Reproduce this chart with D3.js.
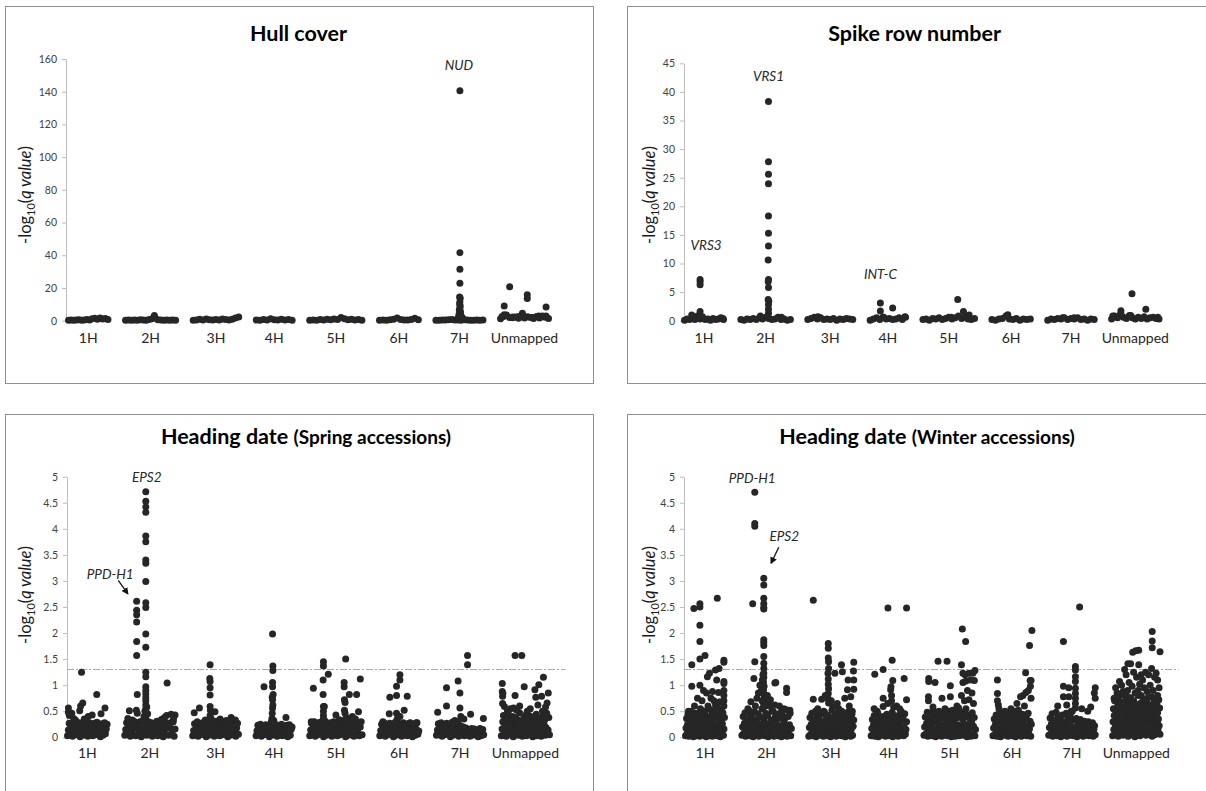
<!DOCTYPE html>
<html>
<head>
<meta charset="utf-8">
<script src="https://cdn.jsdelivr.net/npm/d3@7"></script>
<style>
  body { margin: 0; background: #fff; }
  svg { display: block; font-family: Lato, "Open Sans", sans-serif; }
</style>
</head>
<body>
<svg id="chart" width="1206" height="791"></svg>
<script>
'use strict';

// Chromosomes and their lengths (cM-like units) along the x axis
var chromosomes = ["1H", "2H", "3H", "4H", "5H", "6H", "7H", "Unmapped"];
var chromLength = [130, 165, 150, 118, 172, 128, 155, 158];
var chromGap = 58;

// Tick values of the y axes
var hullTicks = [0, 20, 40, 60, 80, 100, 120, 140, 160];
var spikeTicks = [0, 5, 10, 15, 20, 25, 30, 35, 40, 45];
var headingTicks = [0, 0.5, 1, 1.5, 2, 2.5, 3, 3.5, 4, 4.5, 5];
var qThreshold = 1.301; // -log10(0.05)

// ---- Hull cover ----
// dense markers near zero, one list per chromosome, in map order
var hullBase = [
  [.3,.5,.2,.4,.6,.3,.5,.8,.4,1.2,1.5,.9,1.6,1.1,1.4,.8],
  [.2,.4,.3,.5,.2,.6,.4,.3,.8,1.2,1.8,.6,.4,.3,.5,.2,.4,.3],
  [.3,.5,.9,.4,1.1,.6,.4,.8,.5,1.0,.7,.5,.9,1.6,2.2],
  [.4,.3,.8,.5,1.2,.6,.4,.9,.5,.7,.3],
  [.2,.5,.3,.7,.4,.9,.6,1.1,.8,2.0,1.2,.6,.9,.4,.8,.3],
  [.3,.4,.2,.6,.9,1.6,.8,.5,.4,.7,1.5,.6],
  [.3,.2,.5,.4,.6,.8,.5,.4,.3,.6,.4,.3,.2,.5,.3,.4],
  [1.2,2.5,3.5,2.0,1.8,2.2,1.5,2.8,1.6,2.4,1.9,1.3,2.6,1.7,2.9,2.1,1.4]
];
// [chromosome index, position, -log10 q]
var hullPeaks = [
  [1,95,3.2],
  [6,79,140.6],[6,79,41.6],[6,79,31.4],[6,79,22.9],[6,78,14.5],[6,80,13.8],[6,79,11.4],[6,78,10.2],
  [6,80,9.0],[6,79,7.8],[6,77,6.5],[6,81,5.5],[6,79,4.6],[6,76,3.8],[6,82,3.2],[6,79,2.6],[6,84,2.2],
  [6,74,2.0],[6,88,1.6],
  [7,12,9.0],[7,30,20.8],[7,88,15.9],[7,88,13.5],[7,72,4.5],[7,150,8.4],[7,12,3.7],[7,126,2.9],
  [7,150,2.9],[7,5,2.5],[7,40,2.2],[7,60,2.6],[7,105,2.0],[7,140,2.4]
];

// ---- Spike row number ----
var spikeBase = [
  [.1,.3,.2,.5,.2,.8,.3,.4,.2,.3,.1,.4,.2,.3,.5,.2],
  [.2,.1,.3,.2,.4,.2,.5,.3,.6,.4,.2,.3,.6,.2,.3,.1,.2],
  [.2,.4,.6,.3,.5,.2,.3,.2,.4,.1,.3,.2,.4,.3,.2],
  [.1,.3,.5,.2,.6,.3,.4,.2,.3,.5,.2,.6],
  [.2,.3,.1,.4,.3,.5,.2,.4,.6,.3,.5,.8,.4,.6,.3,.2,.4],
  [.2,.1,.3,.4,.8,.3,.2,.4,.1,.3,.2,.3],
  [.1,.3,.2,.4,.3,.5,.2,.4,.3,.5,.2,.3,.1,.3,.2],
  [.3,.8,.5,1.1,.6,.4,.9,.5,.3,.6,.4,.7,.3,.5,.6,.4,.3]
];
var spikePeaks = [
  [0,52,7.2],[0,52,6.8],[0,52,6.3],[0,52,1.6],[0,24,1.0],[0,60,0.7],[0,128,0.4],
  [1,92,38.3],[1,92,27.8],[1,92,25.6],[1,92,23.95],[1,92,18.3],[1,92,15.3],[1,92,13.05],[1,91,10.6],
  [1,92,7.2],[1,91,6.8],[1,92,5.8],[1,91,3.7],[1,93,3.4],[1,92,2.8],[1,92,2.0],[1,92,1.3],[1,90,0.8],
  [1,65,0.8],[1,135,0.6],
  [2,34,0.7],
  [3,34,3.1],[3,34,1.7],[3,75,2.2],[3,116,0.7],[3,45,0.6],
  [4,116,3.7],[4,135,1.6],[4,154,1.0],[4,94,0.6],
  [5,53,1.05],
  [6,50,0.5],[6,88,0.5],
  [7,68,4.7],[7,114,2.0],[7,31,1.75],[7,31,1.2],[7,64,0.9],[7,4,0.8],[7,154,0.6]
];

// ---- Heading date, spring accessions ----
var springBase = [
  [.03,.14,.27,.06,.19,.25,.02,.11,.29,.05,.16,.23,.08,.2,.28,.01,.13,.26,.04,.17,.3,.07,.1,.24,.02,.15,.28,.06,.21,.25,.03,.12,.27,.05,.18,.29,.08,.14,.23,.01,.2,.26,.04,.11,.28,.07,.16,.25],
  [.04,.15,.28,.07,.2,.31,.02,.12,.26,.06,.18,.3,.03,.22,.27,.08,.13,.29,.01,.17,.32,.05,.1,.25,.04,.21,.3,.07,.14,.28,.02,.19,.26,.06,.11,.31,.03,.16,.27,.08,.23,.29,.01,.13,.3,.05,.18,.25,.04,.2,.28,.07,.12,.3,.02,.16],
  [.03,.13,.26,.06,.19,.3,.02,.1,.24,.05,.16,.28,.08,.21,.33,.01,.12,.25,.04,.18,.29,.07,.14,.23,.02,.2,.31,.06,.11,.27,.03,.17,.26,.05,.22,.3,.08,.13,.24,.01,.19,.28,.04,.15,.32,.07,.1,.25,.02,.18,.27,.06],
  [.03,.12,.23,.06,.17,.25,.02,.1,.21,.05,.15,.24,.07,.19,.22,.01,.11,.26,.04,.16,.2,.06,.13,.24,.02,.18,.22,.05,.09,.25,.03,.14,.21,.07,.17,.23,.01,.12,.24,.04,.15,.2],
  [.03,.14,.27,.06,.19,.3,.02,.11,.25,.05,.17,.29,.08,.21,.26,.01,.13,.31,.04,.18,.24,.07,.1,.28,.02,.16,.3,.06,.2,.25,.03,.12,.33,.05,.22,.27,.08,.15,.3,.01,.19,.26,.04,.11,.35,.07,.17,.28,.02,.23,.31,.06,.13,.27,.03,.2,.3,.05],
  [.03,.13,.25,.06,.18,.28,.02,.1,.23,.05,.16,.27,.07,.2,.24,.01,.12,.29,.04,.17,.22,.06,.14,.26,.02,.19,.28,.05,.11,.24,.03,.15,.27,.07,.18,.23,.01,.13,.26,.04,.16,.28,.06,.12],
  [.04,.14,.26,.07,.19,.28,.02,.11,.24,.05,.17,.27,.08,.21,.25,.01,.13,.29,.04,.18,.23,.06,.1,.26,.02,.15,.22,.05,.12,.2,.03,.16,.18,.07,.11,.15,.02,.13,.17,.04,.09,.16,.06,.12,.14,.01,.1,.17,.03,.08,.15,.05],
  [.03,.16,.3,.42,.07,.22,.36,.02,.12,.27,.45,.05,.19,.33,.09,.25,.4,.01,.14,.29,.38,.06,.21,.34,.04,.17,.47,.08,.24,.31,.02,.13,.37,.06,.2,.43,.03,.28,.35,.1,.15,.41,.05,.23,.32,.01,.18,.39,.07,.26,.44,.03,.12,.3,.08,.21,.36,.02,.16,.4,.06,.25,.33,.04,.19,.46,.09,.14,.38,.05]
];
var springPeaks = [
  [0,46,1.25],[0,50,.66],[0,43,.6],[0,96,.82],[0,123,.56],[0,3,.56],[0,14,.46],[0,40,.51],[0,68,.4],
  [0,81,.43],[0,20,.36],[0,110,.45],[0,3,.48],[0,6,.42],[0,26,.33],[0,55,.35],
  [1,39,2.61],[1,39,2.44],[1,39,2.35],[1,39,2.21],[1,39,1.84],[1,39,1.57],
  [1,69,4.71],[1,69,4.53],[1,69,4.42],[1,69,4.32],[1,69,3.86],[1,69,3.75],[1,69,3.40],[1,69,3.34],
  [1,69,2.99],[1,69,2.58],[1,69,2.49],[1,69,1.98],[1,69,1.73],[1,69,1.25],[1,69,1.16],[1,69,.97],
  [1,69,.9],[1,69,.83],[1,69,.76],[1,69,.7],[1,69,.62],[1,69,.55],[1,69,.48],[1,69,.42],[1,69,.36],
  [1,41,.82],[1,15,.51],[1,38,.52],[1,41,.46],[1,139,1.04],[1,165,.43],[1,137,.42],[1,152,.44],
  [1,130,.38],[1,66,.5],[1,72,.58],[1,63,.4],[1,75,.45],[1,10,.36],[1,25,.33],[1,50,.3],[1,120,.34],[1,160,.35],
  [2,57,1.39],[2,56,1.13],[2,57,1.07],[2,57,.95],[2,57,.81],[2,57,.59],[2,58,.52],[2,73,.49],[2,5,.47],
  [2,22,.56],[2,126,.38],[2,57,.42],[2,60,.36],[2,140,.33],[2,90,.35],[2,110,.32],
  [3,54,1.98],[3,55,1.37],[3,55,1.28],[3,54,1.05],[3,54,.97],[3,53,.77],[3,54,.72],[3,54,.56],
  [3,53,.46],[3,52,.36],[3,26,.97],[3,98,.38],[3,55,.62],[3,56,.82],[3,50,.3],[3,58,.32],
  [4,12,.94],[4,45,1.45],[4,45,1.37],[4,61,1.21],[4,44,1.1],[4,44,.82],[4,45,.59],[4,48,.59],
  [4,118,1.5],[4,86,.43],[4,113,1.05],[4,113,.97],[4,114,.72],[4,116,.67],[4,130,.82],[4,154,.82],
  [4,166,1.12],[4,160,.49],[4,114,.52],[4,116,.46],[4,45,.5],[4,45,.42],[4,45,.35],[4,120,.38],
  [4,100,.33],[4,140,.4],[4,150,.35],[4,5,.3],
  [5,66,1.2],[5,66,1.1],[5,55,.98],[5,33,.77],[5,55,.8],[5,90,.79],[5,80,.52],[5,31,.45],[5,55,.46],
  [5,33,.25],[5,57,.35],[5,66,.4],[5,10,.3],[5,100,.28],[5,120,.28],
  [6,102,1.57],[6,102,1.39],[6,71,1.08],[6,33,.95],[6,77,.85],[6,33,.6],[6,4,.48],[6,77,.56],
  [6,112,.44],[6,154,.36],[6,80,.4],[6,60,.32],[6,90,.35],[6,70,.3],
  [7,45,1.57],[7,67,1.57],[7,3,1.03],[7,3,.88],[7,5,.84],[7,4,.79],[7,45,.8],[7,75,.97],[7,138,1.15],
  [7,123,1.01],[7,154,.85],[7,110,.91],[7,113,.77],[7,132,.79],[7,4,.65],[7,10,.59],[7,60,.6],
  [7,145,.58],[7,95,.55],[7,30,.55],[7,120,.62],[7,150,.66],[7,20,.5],[7,50,.52],[7,85,.5],[7,135,.5],[7,40,.56]
];

// ---- Heading date, winter accessions ----
var winterBase = [
  [.03,.18,.36,.07,.24,.44,.02,.14,.31,.09,.21,.5,.04,.16,.39,.01,.26,.33,.06,.12,.46,.03,.2,.29,.08,.15,.41,.02,.23,.35,.05,.11,.48,.04,.19,.3,.07,.25,.42,.01,.13,.37,.06,.22,.55,.03,.17,.32,.09,.27,.45,.02,.14,.34,.05,.21,.4,.08,.18,.62,.03,.24,.36,.06,.12,.43,.01,.2,.31,.07,.26,.47,.04,.16,.38],
  [.04,.2,.4,.08,.27,.47,.02,.15,.34,.06,.22,.52,.03,.18,.43,.09,.29,.37,.01,.13,.49,.05,.24,.32,.07,.17,.45,.02,.26,.39,.04,.12,.55,.08,.21,.35,.03,.28,.46,.06,.16,.41,.01,.23,.6,.05,.19,.33,.09,.3,.5,.02,.14,.38,.07,.25,.44,.03,.18,.36,.06,.22,.48,.01,.15,.42,.08,.27,.34,.04,.2,.53,.02,.13,.4,.05,.24,.46,.03,.17],
  [.02,.19,.38,.06,.25,.46,.03,.13,.33,.08,.22,.5,.01,.16,.41,.05,.28,.35,.04,.12,.44,.07,.21,.3,.02,.18,.48,.09,.26,.37,.03,.14,.42,.06,.23,.32,.01,.17,.52,.05,.27,.39,.08,.11,.45,.02,.2,.34,.04,.24,.4,.07,.15,.47,.03,.29,.36,.06,.19,.43,.01,.13,.31,.05,.22,.49,.09,.26,.38,.02,.16,.44,.04,.21,.33],
  [.03,.17,.34,.06,.24,.42,.02,.12,.3,.08,.2,.46,.01,.15,.37,.05,.26,.32,.04,.11,.4,.07,.19,.28,.02,.22,.44,.06,.14,.35,.03,.25,.38,.09,.16,.48,.01,.21,.31,.05,.13,.41,.08,.27,.36,.02,.18,.43,.04,.23,.33,.07,.12,.39,.03,.2,.45,.06,.15,.3],
  [.04,.2,.39,.07,.27,.48,.02,.14,.33,.09,.23,.44,.03,.17,.52,.06,.29,.36,.01,.12,.42,.05,.21,.31,.08,.25,.47,.02,.15,.38,.04,.19,.45,.07,.28,.34,.03,.13,.5,.06,.22,.4,.01,.16,.32,.09,.26,.46,.02,.18,.37,.05,.24,.56,.03,.11,.41,.08,.2,.35,.04,.27,.49,.06,.14,.39,.01,.23,.43,.07,.17,.33,.02,.29,.47,.05,.21,.38,.03,.15],
  [.03,.18,.35,.06,.25,.43,.02,.13,.31,.08,.21,.47,.01,.16,.38,.05,.27,.33,.04,.12,.41,.07,.2,.29,.02,.23,.45,.06,.15,.36,.03,.26,.39,.09,.17,.5,.01,.22,.32,.05,.14,.42,.08,.28,.37,.02,.19,.44,.04,.24,.34,.07,.13,.4,.03,.21,.46,.06,.16,.31,.02,.25],
  [.04,.19,.37,.07,.26,.45,.02,.14,.32,.09,.22,.48,.03,.17,.4,.06,.28,.35,.01,.12,.43,.05,.21,.3,.08,.24,.46,.02,.16,.38,.04,.27,.41,.07,.13,.5,.03,.2,.33,.06,.15,.36,.01,.23,.29,.05,.11,.34,.08,.18,.27,.02,.14,.31,.04,.21,.25,.07,.12,.3,.03,.17,.26,.06,.1,.28,.02,.15,.22,.05],
  [.03,.3,.55,.15,.42,.7,.06,.22,.5,.36,.78,.1,.27,.62,.02,.45,.18,.58,.33,.08,.68,.24,.48,.13,.4,.82,.04,.28,.6,.17,.52,.35,.07,.72,.2,.44,.11,.57,.31,.02,.65,.25,.5,.14,.38,.76,.05,.29,.6,.19,.46,.09,.34,.7,.23,.54,.01,.41,.16,.63,.3,.06,.5,.21,.8,.37,.12,.58,.27,.03,.45,.66,.18,.33,.08,.53,.24,.74,.4,.1,.6,.29,.15,.48,.04,.36,.69,.2,.55,.11,.43,.26,.62,.07,.32,.5,.17,.78,.38,.02,.57,.23,.45,.13,.68,.3,.05,.52,.19,.4,.09,.64,.28,.47,.14,.35,.72,.22,.56,.06]
];
var winterPeaks = [
  [0,28,2.47],[0,48,2.56],[0,48,2.5],[0,106,2.67],[0,48,2.15],[0,48,1.84],[0,48,1.5],[0,65,1.57],
  [0,21,1.39],[0,21,.98],[0,128,1.48],[0,128,1.44],[0,48,1.0],[0,73,1.16],[0,80,1.23],[0,100,1.29],
  [0,112,1.32],[0,104,1.1],[0,128,1.07],[0,128,1.03],[0,128,.9],[0,128,.8],[0,128,.7],[0,128,.6],
  [0,60,.9],[0,70,.85],[0,90,.88],[0,110,.86],[0,85,.75],[0,95,.7],[0,40,.75],[0,55,.7],[0,100,.62],
  [0,115,.68],[0,30,.6],[0,75,.6],[0,50,.55],[0,120,.55],[0,10,.5],[0,88,.52],[0,65,.5],[0,105,.5],
  [1,43,4.7],[1,43,4.1],[1,43,4.05],[1,36,2.56],[1,73,3.05],[1,73,2.92],[1,73,2.67],[1,73,2.56],
  [1,73,2.49],[1,73,2.46],[1,73,1.87],[1,73,1.82],[1,73,1.76],[1,73,1.55],[1,73,1.42],[1,73,1.32],
  [1,73,1.23],[1,73,1.15],[1,72,1.06],[1,74,.98],[1,72,.9],[1,73,.82],[1,74,.74],[1,72,.66],[1,73,.58],
  [1,43,1.45],[1,40,1.13],[1,110,1.04],[1,113,1.05],[1,149,.94],[1,149,.86],[1,60,1.0],[1,65,.9],
  [1,55,.85],[1,85,.8],[1,50,.75],[1,95,.72],[1,30,.68],[1,80,.65],[1,110,.62],[1,125,.6],[1,140,.55],
  [1,20,.55],[1,160,.52],[1,100,.5],[1,68,1.1],[1,70,1.2],[1,67,.7],[1,45,.6],
  [2,15,2.63],[2,65,1.8],[2,65,1.71],[2,65,1.52],[2,66,1.45],[2,66,1.32],[2,64,1.23],[2,65,1.12],
  [2,65,1.02],[2,66,.93],[2,65,.84],[2,64,.75],[2,66,.66],[2,109,1.39],[2,112,1.26],[2,87,1.23],
  [2,150,1.44],[2,149,1.27],[2,150,1.1],[2,150,.92],[2,131,1.1],[2,129,.91],[2,15,.73],[2,43,.73],
  [2,55,.8],[2,75,.7],[2,95,.65],[2,120,.75],[2,140,.78],[2,135,.6],[2,100,.55],[2,30,.55],[2,80,.58],
  [2,145,.5],[2,110,.5],[2,50,.5],
  [3,56,2.48],[3,118,2.48],[3,12,1.21],[3,40,1.3],[3,70,1.48],[3,72,1.09],[3,110,1.13],[3,118,.72],
  [3,65,.91],[3,66,.97],[3,40,.75],[3,40,.59],[3,68,.8],[3,68,.7],[3,55,.65],[3,85,.6],[3,95,.55],
  [3,20,.5],[3,100,.5],[3,75,.58],[3,10,.55],
  [4,47,1.46],[4,77,1.46],[4,128,2.08],[4,139,1.84],[4,125,1.39],[4,130,1.23],[4,137,1.2],[4,150,1.23],
  [4,163,1.23],[4,168,1.09],[4,170,1.28],[4,16,1.13],[4,16,1.07],[4,37,1.05],[4,88,.99],[4,15,.78],
  [4,88,.78],[4,15,.7],[4,60,.75],[4,130,1.05],[4,140,1.08],[4,155,1.1],[4,145,.9],[4,160,.85],
  [4,125,.8],[4,135,.7],[4,150,.72],[4,165,.65],[4,110,.6],[4,30,.58],[4,70,.55],[4,95,.52],[4,115,.5],
  [4,140,.55],[4,50,.5],
  [5,130,2.05],[5,122,1.76],[5,15,1.1],[5,109,1.24],[5,124,1.09],[5,127,1.09],[5,125,.98],[5,92,.78],
  [5,15,.84],[5,15,.7],[5,18,.62],[5,100,.8],[5,110,.86],[5,118,.9],[5,80,.65],[5,60,.55],[5,127,.75],
  [5,105,.6],[5,40,.5],[5,85,.52],[5,20,.55],
  [6,103,2.5],[6,49,1.84],[6,89,1.36],[6,89,1.29],[6,89,1.16],[6,89,1.07],[6,89,.94],[6,89,.84],
  [6,89,.75],[6,89,.65],[6,89,.56],[6,49,.98],[6,67,.95],[6,49,.78],[6,67,.78],[6,155,.95],[6,152,.85],
  [6,155,.75],[6,30,.6],[6,60,.62],[6,110,.55],[6,130,.5],[6,75,.5],[6,140,.58],
  [7,132,2.03],[7,132,1.85],[7,132,1.72],[7,158,1.64],[7,67,1.63],[7,77,1.66],[7,87,1.67],[7,51,1.41],
  [7,60,1.41],[7,87,1.39],[7,23,1.07],[7,130,1.32],[7,145,1.23],[7,150,1.1],[7,40,1.3],[7,45,1.2],
  [7,70,1.25],[7,80,1.15],[7,95,1.2],[7,100,1.1],[7,110,1.25],[7,120,1.2],[7,140,1.15],[7,10,.95],
  [7,30,1.0],[7,55,1.05],[7,65,.98],[7,90,1.02],[7,105,.95],[7,125,1.0],[7,155,.95],[7,15,.85],
  [7,35,.88],[7,50,.9],[7,75,.85],[7,85,.9],[7,115,.88],[7,135,.9],[7,150,.8],[7,20,.78],[7,45,.8],
  [7,60,.75],[7,95,.8],[7,120,.78],[7,140,.75],[7,5,.75]
];

// Gene labels: [chromosome, position, value of the marker they point at, text]
var hullGenes = [[6,79,140.6,"NUD"]];
var spikeGenes = [[1,92,38.3,"VRS1"],[0,52,7.2,"VRS3"],[3,34,3.1,"INT-C"]];
var springGenes = [[1,69,4.71,"EPS2"],[1,39,2.61,"PPD-H1"]];
var winterGenes = [[1,43,4.7,"PPD-H1"],[1,73,3.05,"EPS2"]];

var chromStart = chromLength.map(function(d, i){
  return d3.sum(chromLength.slice(0, i)) + i * chromGap
})
var genomeEnd = chromStart[7] + chromLength[7]

var svg = d3.select("#chart")

svg.append("defs").append("marker")
  .attr("id", "arrowhead")
  .attr("viewBox", "0 0 10 10")
  .attr("refX", 8).attr("refY", 5)
  .attr("markerWidth", 7).attr("markerHeight", 7)
  .attr("markerUnits", "userSpaceOnUse")
  .attr("orient", "auto")
  .append("path").attr("d", "M0,0 L10,5 L0,10 z").attr("fill", "#111")

// Layout of the four panels (pixels)
var panels = [
  { title: "Hull cover", sub: null, base: hullBase, peaks: hullPeaks, genes: hullGenes,
    ticks: hullTicks, yMax: 160, box: [5, 6, 588, 377], axisX: 66, x0: 68.5, x1: 548.5,
    y0: 320.7, y1: 59, titleX: 298.5, titleY: 40.5, labelX: 31, labelY: 195, xLabY: 342.5,
    threshold: false, geneOffset: { NUD: [-1, -25] } },
  { title: "Spike row number", sub: null, base: spikeBase, peaks: spikePeaks, genes: spikeGenes,
    ticks: spikeTicks, yMax: 45, box: [627, 6, 620, 377], axisX: 684, x0: 684.5, x1: 1159,
    y0: 320.7, y1: 63.3, titleX: 914.6, titleY: 40.5, labelX: 655, labelY: 195, xLabY: 342.5,
    threshold: false, geneOffset: { VRS1: [0, -25.5], VRS3: [6, -34.5], "INT-C": [0, -29] } },
  { title: "Heading date ", sub: "(Spring accessions)", base: springBase, peaks: springPeaks, genes: springGenes,
    ticks: headingTicks, yMax: 5, box: [5, 414, 588, 400], axisX: 67, x0: 67.5, x1: 549.5,
    y0: 737.3, y1: 476.7, titleX: 306, titleY: 444, labelX: 31, labelY: 595, xLabY: 758,
    threshold: 565.6, geneOffset: { EPS2: [1, -15], "PPD-H1": [-26.5, -26.5] },
    arrows: { "PPD-H1": [-18.4, -21, -9, -7.7] } },
  { title: "Heading date ", sub: "(Winter accessions)", base: winterBase, peaks: winterPeaks, genes: winterGenes,
    ticks: headingTicks, yMax: 5, box: [627, 414, 620, 400], axisX: 684, x0: 685.5, x1: 1160,
    y0: 737.3, y1: 476.7, titleX: 927, titleY: 444, labelX: 655, labelY: 595, xLabY: 758,
    threshold: 1178.6, geneOffset: { "PPD-H1": [-2.6, -14], EPS2: [20.5, -42] },
    arrows: { EPS2: [15, -31, 7.4, -15.3] } }
]

panels.forEach(function(p){
  var g = svg.append("g")

  g.append("rect")
    .attr("x", p.box[0] + 0.5).attr("y", p.box[1] + 0.5)
    .attr("width", p.box[2]).attr("height", p.box[3])
    .attr("fill", "none").attr("stroke", "#8e8e8e")

  var x = d3.scaleLinear().domain([0, genomeEnd]).range([p.x0, p.x1])
  var y = d3.scaleLinear().domain([0, p.yMax]).range([p.y0, p.y1])

  // Title
  var t = g.append("text")
    .attr("x", p.titleX).attr("y", p.titleY)
    .attr("text-anchor", "middle")
    .attr("font-weight", "bold").attr("font-size", 21.5).attr("fill", "#000")
  t.append("tspan").text(p.title)
  if (p.sub) t.append("tspan").attr("font-size", 19).text(p.sub)

  // Y axis
  var ax = g.append("g")
    .attr("transform", "translate(" + p.axisX + ",0)")
    .call(d3.axisLeft(y).tickValues(p.ticks).tickSize(4).tickSizeOuter(0).tickPadding(5)
      .tickFormat(d3.format("~g")))
  ax.select(".domain").attr("stroke", "#bdbdbd")
  ax.selectAll(".tick line").attr("stroke", "#bdbdbd")
  ax.selectAll(".tick text").attr("fill", "#404040").attr("font-size", 10.5)
    .attr("font-family", "Lato, 'Open Sans', sans-serif")

  // Y label: -log10(q value)
  var yl = g.append("text")
    .attr("transform", "translate(" + p.labelX + "," + p.labelY + ") rotate(-90)")
    .attr("text-anchor", "middle").attr("font-size", 16.5).attr("font-weight", "normal")
    .attr("fill", "#1a1a1a")
  yl.append("tspan").text("-log")
  yl.append("tspan").attr("font-size", 11).attr("dy", 4).text("10")
  yl.append("tspan").attr("dy", -4).text("(")
  yl.append("tspan").attr("font-style", "italic").text("q value")
  yl.append("tspan").text(")")

  // Significance threshold q = 0.05
  if (p.threshold) {
    g.append("line")
      .attr("x1", p.axisX).attr("x2", p.threshold)
      .attr("y1", y(qThreshold)).attr("y2", y(qThreshold))
      .attr("stroke", "#a8a8a8").attr("stroke-width", 1)
      .attr("stroke-dasharray", "7,2,2,2")
  }

  // Chromosome labels
  g.selectAll(".chrom")
    .data(chromosomes)
    .enter().append("text")
    .attr("x", function(d, i){ return x(chromStart[i] + chromLength[i] / 2) })
    .attr("y", p.xLabY)
    .attr("text-anchor", "middle").attr("font-size", 14).attr("fill", "#262626")
    .text(function(d){ return d })

  // Markers
  var pts = []
  p.base.forEach(function(vals, c){
    vals.forEach(function(v, j){
      pts.push({ pos: chromStart[c] + j / (vals.length - 1) * chromLength[c], v: v })
    })
  })
  p.peaks.forEach(function(d){
    pts.push({ pos: chromStart[d[0]] + d[1], v: d[2] })
  })
  g.append("g").selectAll("circle")
    .data(pts)
    .enter().append("circle")
    .attr("cx", function(d){ return x(d.pos) })
    .attr("cy", function(d){ return y(d.v) })
    .attr("r", 3.5)
    .attr("fill", "#262626")

  // Gene names and arrows
  p.genes.forEach(function(d){
    var px = x(chromStart[d[0]] + d[1]), py = y(d[2])
    var off = p.geneOffset[d[3]]
    g.append("text")
      .attr("x", px + off[0]).attr("y", py + off[1])
      .attr("dy", "0.35em")
      .attr("text-anchor", "middle").attr("font-style", "italic")
      .attr("font-size", 13.5).attr("fill", "#262626")
      .text(d[3])
    if (p.arrows && p.arrows[d[3]]) {
      var a = p.arrows[d[3]]
      g.append("line")
        .attr("x1", px + a[0]).attr("y1", py + a[1])
        .attr("x2", px + a[2]).attr("y2", py + a[3])
        .attr("stroke", "#111").attr("stroke-width", 1.3)
        .attr("marker-end", "url(#arrowhead)")
    }
  })
})
</script>
</body>
</html>
